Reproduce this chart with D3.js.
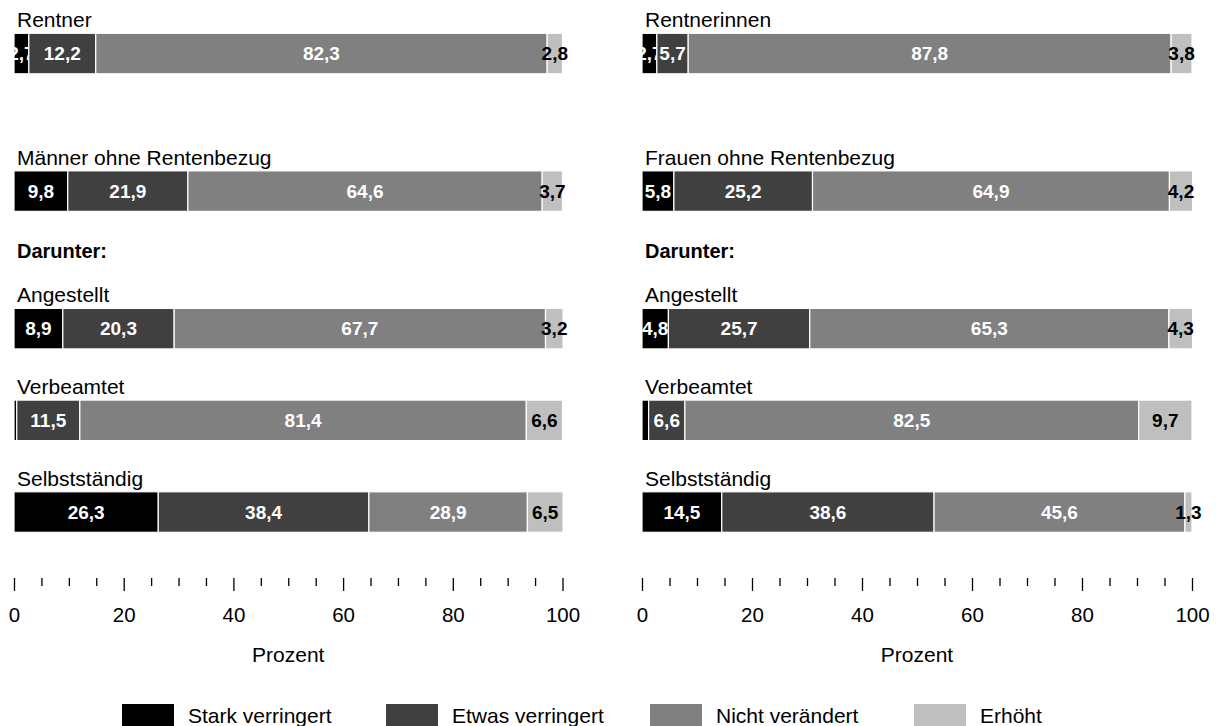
<!DOCTYPE html>
<html>
<head>
    <meta charset="UTF-8">
    <title>Veränderung nach Gruppen</title>
    <script src="https://d3js.org/d3.v7.min.js"></script>
    <style>
        body { margin: 0; background: #fff; }
        text { font-family: "Liberation Sans", Arial, sans-serif; }
    </style>
</head>
<body>
    <svg class="chart"></svg>

    <script>
    const width = 1218;
    const height = 726;

    // categories of the stacks
    const series = ["Stark verringert", "Etwas verringert", "Nicht verändert", "Erhöht"];
    const colors = ["#000000", "#404040", "#808080", "#bfbfbf"];

    // row labels of both panels
    const menGroups = ["Rentner", "Männer ohne Rentenbezug", "Angestellt", "Verbeamtet", "Selbstständig"];
    const womenGroups = ["Rentnerinnen", "Frauen ohne Rentenbezug", "Angestellt", "Verbeamtet", "Selbstständig"];
    const subHeading = "Darunter:";

    // percent values, one row per group, in the order of series
    const menValues = [
        [2.7, 12.2, 82.3, 2.8],
        [9.8, 21.9, 64.6, 3.7],
        [8.9, 20.3, 67.7, 3.2],
        [0.5, 11.5, 81.4, 6.6],
        [26.3, 38.4, 28.9, 6.5]
    ];
    const womenValues = [
        [2.7, 5.7, 87.8, 3.8],
        [5.8, 25.2, 64.9, 4.2],
        [4.8, 25.7, 65.3, 4.3],
        [1.2, 6.6, 82.5, 9.7],
        [14.5, 38.6, 45.6, 1.3]
    ];

    const tickValues = d3.range(0, 101, 5);
    const axisTitle = "Prozent";

    const svg = d3.select(".chart")
        .attr("width", width)
        .attr("height", height);

    // rows: slot 2.5 holds the "Darunter:" heading
    const rowSlots = [0, 1.5, 3, 4, 5];
    const y_scale = d3.scaleLinear().domain([0, 5]).range([33.3, 491.8]);
    const barHeight = 40.5;

    const color_scale = d3.scaleOrdinal().domain(series).range(colors);

    function drawPanel(x0, x1, groups, values) {
        const x_scale = d3.scaleLinear().domain([0, 100]).range([x0, x1]);
        const g = svg.append("g");

        const rows = g.selectAll("g.row")
            .data(groups.map((name, i) => ({name: name, vals: values[i], slot: rowSlots[i]})))
            .enter().append("g")
            .attr("class", "row")
            .attr("transform", (d) => `translate(0, ${y_scale(d.slot)})`);

        // group label
        rows.append("text")
            .attr("x", x0 + 3)
            .attr("y", -6)
            .style("font-size", "21px")
            .attr("fill", "#000")
            .text((d) => d.name);

        const segs = rows.selectAll("g.seg")
            .data((d) => {
                let acc = 0;
                return d.vals.map((v, j) => {
                    const s = {key: series[j], v: v, start: acc, j: j};
                    acc += v;
                    return s;
                });
            })
            .enter().append("g")
            .attr("class", "seg");

        segs.append("rect")
            .attr("x", (d) => x_scale(d.start))
            .attr("y", 0)
            .attr("width", (d) => x_scale(d.start + d.v) - x_scale(d.start))
            .attr("height", barHeight)
            .style("fill", (d) => color_scale(d.key))
            .style("stroke", "#fff")
            .style("stroke-width", 1.2);

        // value labels (tiny segments stay unlabelled)
        segs.filter((d) => d.v >= 1.3)
            .append("text")
            .attr("x", (d) => x_scale(d.start + d.v / 2))
            .attr("y", barHeight / 2)
            .attr("dy", "0.36em")
            .attr("text-anchor", "middle")
            .style("font-size", "19px")
            .style("font-weight", "bold")
            .attr("fill", (d) => d.j === 3 ? "#000" : "#fff")
            .text((d) => d3.format(".1f")(d.v).replace(".", ","));

        // sub heading
        g.append("text")
            .attr("x", x0 + 3)
            .attr("y", y_scale(2.5) - 5)
            .style("font-size", "20px")
            .style("font-weight", "bold")
            .text(subHeading);

        // axis
        const axis = g.append("g")
            .attr("transform", "translate(0, 578)")
            .call(d3.axisBottom(x_scale)
                .tickValues(tickValues)
                .tickSize(13)
                .tickPadding(16.5)
                .tickFormat((d) => d % 20 === 0 ? d : ""));
        axis.select(".domain").remove();
        axis.selectAll(".tick line")
            .attr("stroke", "#000")
            .attr("stroke-width", 1.3)
            .attr("y2", (d) => d % 20 === 0 ? 13 : 8);
        axis.selectAll(".tick text")
            .attr("fill", "#000")
            .style("font-size", "20.5px")
            .style("font-family", "'Liberation Sans', Arial, sans-serif");

        g.append("text")
            .attr("x", (x0 + x1) / 2)
            .attr("y", 661.7)
            .attr("text-anchor", "middle")
            .style("font-size", "21px")
            .text(axisTitle);
    }

    drawPanel(14, 562.5, menGroups, menValues);
    drawPanel(642, 1192, womenGroups, womenValues);

    // legend
    const legend_x = d3.scalePoint().domain(series).range([122, 914]);
    const legend = svg.selectAll("g.legend")
        .data(series).enter()
        .append("g")
        .attr("class", "legend")
        .attr("transform", (d) => `translate(${legend_x(d)}, 704)`);

    legend.append("rect")
        .attr("width", 52)
        .attr("height", 26)
        .style("fill", (d) => color_scale(d));

    legend.append("text")
        .attr("x", 66)
        .attr("y", 18.7)
        .style("font-size", "21px")
        .text((d) => d);
    </script>
</body>
</html>
